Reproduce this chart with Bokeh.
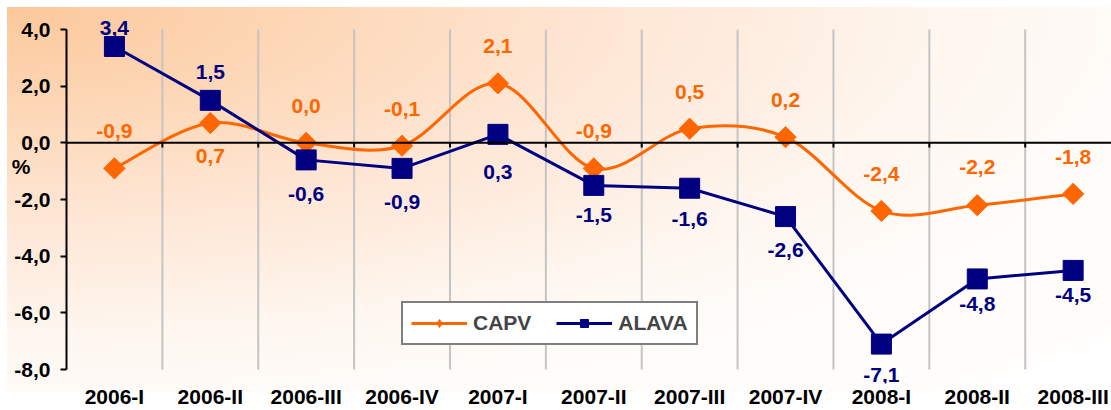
import numpy as np
from bokeh.plotting import figure
from bokeh.models import (FixedTicker, Span, Legend, LegendItem, LabelSet, LinearAxis,
                          CustomJSTickFormatter, ColumnDataSource)
from bokeh.core.properties import value
from bokeh.embed import file_html
from bokeh.resources import INLINE

# ---- data ----
categories = ["2006-I", "2006-II", "2006-III", "2006-IV", "2007-I", "2007-II",
              "2007-III", "2007-IV", "2008-I", "2008-II", "2008-III"]
capv = [-0.9, 0.7, 0.0, -0.1, 2.1, -0.9, 0.5, 0.2, -2.4, -2.2, -1.8]
alava = [3.4, 1.5, -0.6, -0.9, 0.3, -1.5, -1.6, -2.6, -7.1, -4.8, -4.5]
y_ticks = [-8, -6, -4, -2, 0, 2, 4]
y_unit_label = "%"

# ---- label placement (screen px, positive = up) ----
capv_label_dy = [37, -33, 37, 37, 37, 37, 37, 37, 37, 38, 37]
alava_label_dy = [19, 28, -34, -34, -38, -30, -31, -33, -31, -25, -25]

ORANGE = "#FF6600"
NAVY = "#000080"
FONT = "Liberation Sans"
FS = "21px"

n = len(categories)
xs = np.arange(n, dtype=float)

def fmt(v):
    return f"{v:.1f}".replace(".", ",")

p = figure(width=1111, height=410, x_range=(-0.5, 10.4), y_range=(-8.49, 4.6),
           output_backend="svg", toolbar_location=None,
           min_border_left=66, min_border_right=0, min_border_top=12,
           min_border_bottom=25)
p.background_fill_color = None
p.border_fill_color = None
p.outline_line_color = None
p.styles = {
    "background-color": "white",
    "background-image": "radial-gradient(ellipse farthest-corner at 0 0, #FCC89B 0%, "
                        "#FDD8B8 20%, #FEE6D4 38%, #FEEEE2 50%, #FEF6EF 60%, "
                        "#FFFBF8 72%, #FFFFFF 100%)",
    "background-repeat": "no-repeat",
    "background-position": "7px 7px",
    "background-size": "1104px 385px",
}

# y axis
p.yaxis.ticker = FixedTicker(ticks=y_ticks)
p.yaxis.bounds = (y_ticks[0], y_ticks[-1])
p.yaxis.formatter = CustomJSTickFormatter(code="return tick.toFixed(1).replace('.', ',');")
p.yaxis.axis_line_width = 2
p.yaxis.axis_line_color = "black"
p.yaxis.major_tick_line_width = 2
p.yaxis.major_tick_out = 6
p.yaxis.major_tick_in = 0
p.yaxis.minor_tick_line_color = None
p.yaxis.major_label_text_font = FONT
p.yaxis.major_label_text_font_style = "bold"
p.yaxis.major_label_text_font_size = FS
p.yaxis.major_label_text_color = "black"
p.yaxis.major_label_standoff = 10

# "%" unit label as a second, bare left axis
unit_axis = LinearAxis(ticker=FixedTicker(ticks=[-0.85]),
                       formatter=CustomJSTickFormatter(args=dict(t=y_unit_label),
                                                       code="return t;"),
                       axis_line_color=None, major_tick_line_color=None,
                       minor_tick_line_color=None, major_tick_out=0, major_tick_in=0,
                       minor_tick_out=0, minor_tick_in=0,
                       major_label_standoff=-19,
                       major_label_text_font=FONT, major_label_text_font_style="bold",
                       major_label_text_font_size=FS, major_label_text_color="black")
p.add_layout(unit_axis, "left")

# x axis (labels only)
p.xaxis.ticker = FixedTicker(ticks=list(range(n)))
p.xaxis.formatter = CustomJSTickFormatter(args=dict(cats=categories),
                                          code="return cats[Math.round(tick)] || '';")
p.xaxis.axis_line_color = None
p.xaxis.major_tick_line_color = None
p.xaxis.minor_tick_line_color = None
p.xaxis.major_tick_out = 0
p.xaxis.major_label_text_font = FONT
p.xaxis.major_label_text_font_style = "bold"
p.xaxis.major_label_text_font_size = FS
p.xaxis.major_label_text_color = "black"
p.xaxis.major_label_standoff = 1

p.xgrid.grid_line_color = None
p.ygrid.grid_line_color = None

# vertical separators between categories (spanning the value axis)
bounds = [i + 0.5 for i in range(n - 1)]
p.segment(x0=bounds, y0=[y_ticks[0]] * len(bounds), x1=bounds,
          y1=[y_ticks[-1]] * len(bounds), line_color="#C4C4C4", line_width=2)

# zero axis line with tick marks at category boundaries
p.add_layout(Span(location=0, dimension="width", line_color="black", line_width=2))
p.segment(x0=bounds, y0=[0] * len(bounds), x1=bounds, y1=[-0.16] * len(bounds),
          line_color="black", line_width=2)

# CAPV smoothed line (Excel-like Catmull-Rom bezier)
cy = np.array(capv, dtype=float)
prev_x = np.concatenate([[xs[0]], xs[:-2]])
prev_y = np.concatenate([[cy[0]], cy[:-2]])
next2_x = np.concatenate([xs[2:], [xs[-1]]])
next2_y = np.concatenate([cy[2:], [cy[-1]]])
x0, y0 = xs[:-1], cy[:-1]
x1, y1 = xs[1:], cy[1:]
cx0 = x0 + (x1 - prev_x) / 6.0
cy0 = y0 + (y1 - prev_y) / 6.0
cx1 = x1 - (next2_x - x0) / 6.0
cy1 = y1 - (next2_y - y0) / 6.0
capv_curve = p.bezier(x0=x0, y0=y0, x1=x1, y1=y1, cx0=cx0, cy0=cy0, cx1=cx1, cy1=cy1,
                      line_color=ORANGE, line_width=3)
capv_pts = p.scatter(xs, capv, marker="square", angle=np.pi / 4, size=15,
                     fill_color=ORANGE, line_color=ORANGE)
# legend-only diamond (hidden in plot)
capv_leg = p.scatter(xs, capv, marker="diamond", size=15,
                     fill_color=ORANGE, line_color=ORANGE, visible=False)

alava_line = p.line(xs, alava, line_color=NAVY, line_width=3)
alava_pts = p.scatter(xs, alava, marker="square", size=20,
                      fill_color=NAVY, line_color=NAVY)

# data labels
capv_src = ColumnDataSource(dict(x=xs, y=capv, t=[fmt(v) for v in capv], dy=capv_label_dy))
alava_src = ColumnDataSource(dict(x=xs, y=alava, t=[fmt(v) for v in alava], dy=alava_label_dy))
for src, col in ((capv_src, ORANGE), (alava_src, NAVY)):
    p.add_layout(LabelSet(x="x", y="y", text="t", y_offset="dy", source=src,
                          text_align="center", text_baseline="middle", text_color=col,
                          text_font=value(FONT), text_font_style="bold",
                          text_font_size=FS))

legend = Legend(items=[LegendItem(label="CAPV", renderers=[capv_curve, capv_leg]),
                       LegendItem(label="ALAVA", renderers=[alava_line, alava_pts])],
                location=(335, 38), orientation="horizontal",
                border_line_color="black", border_line_width=2,
                background_fill_color="white", background_fill_alpha=1,
                inactive_fill_alpha=0,
                label_text_font=FONT, label_text_font_style="bold",
                label_text_font_size=FS, glyph_width=56, glyph_height=20,
                label_standoff=6, spacing=25, padding=8, margin=0)
p.add_layout(legend, "center")

open("out.html", "w").write(file_html(p, INLINE))
